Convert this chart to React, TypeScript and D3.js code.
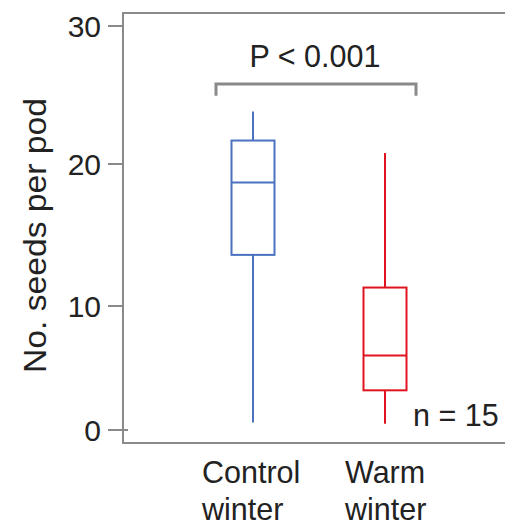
import React from 'react';
import * as d3 from 'd3';

// data
const groups = ['Control winter', 'Warm winter'];
const groupLines = [['Control', 'winter'], ['Warm', 'winter']];
const whiskerLow = [0.6, 0.5];
const boxLow = [13.6, 3.2];
const medians = [18.7, 6.0];
const boxHigh = [21.7, 11.3];
const whiskerHigh = [23.8, 20.8];
const colors = ['#4a72c0', '#e0141e'];
const yTicks = [0, 10, 20, 30];
const pLabel = 'P < 0.001';
const nLabel = 'n = 15';

const W = 505;
const H = 526;

export default function App() {
  // the original axis is not quite evenly spaced, so map each tick to its pixel
  const y = d3.scaleLinear().domain([0, 10, 20, 30]).range([430, 306, 164, 26]);
  const x = d3.scalePoint<string>().domain(groups).range([253, 385]);
  const halfBox = 21.5;

  const axisColor = '#8a8a8a';
  const textColor = '#222';
  const font = "'Liberation Sans', Arial, sans-serif";
  const fs = 30.5;

  const frameLeft = 123;
  const frameTop = 13;
  const frameBottom = 443;

  const bracketY = y(25.8);
  const bracketDrop = y(24.95);
  const bracketL = x(groups[0])! - 37;
  const bracketR = x(groups[1])! + 31;

  return (
    <svg width={W} height={H} style={{ position: 'absolute', left: 0, top: 0 }} fontFamily={font}>
      <rect x={0} y={0} width={W} height={H} fill="#fff" />
      {/* frame */}
      <rect x={frameLeft} y={frameTop} width={W} height={frameBottom - frameTop}
        fill="none" stroke={axisColor} strokeWidth={2} />
      {/* y ticks */}
      {yTicks.map((t) => (
        <g key={t}>
          <line x1={108} x2={t === 0 ? 128 : frameLeft} y1={y(t)} y2={y(t)} stroke={axisColor} strokeWidth={2} />
          <text x={101} y={y(t)} dy="0.36em" textAnchor="end" fontSize={30} fill={textColor}>{t}</text>
        </g>
      ))}
      <text transform={`translate(46,${(98 + 373) / 2}) rotate(-90)`} textAnchor="middle"
        fontSize={fs} fill={textColor} textLength={275} lengthAdjust="spacingAndGlyphs">No. seeds per pod</text>

      {/* boxes */}
      {groups.map((g, i) => {
        const cx = x(g)!;
        return (
          <g key={g} stroke={colors[i]} strokeWidth={2} fill="none">
            <line x1={cx} x2={cx} y1={y(whiskerHigh[i])} y2={y(boxHigh[i])} />
            <line x1={cx} x2={cx} y1={y(boxLow[i])} y2={y(whiskerLow[i])} />
            <rect x={cx - halfBox} y={y(boxHigh[i])} width={halfBox * 2} height={y(boxLow[i]) - y(boxHigh[i])} />
            <line x1={cx - halfBox} x2={cx + halfBox} y1={y(medians[i])} y2={y(medians[i])} />
          </g>
        );
      })}

      {/* significance bracket */}
      <path d={`M${bracketL},${bracketDrop}V${bracketY}H${bracketR}V${bracketDrop}`}
        fill="none" stroke={axisColor} strokeWidth={3} />
      <text x={315} y={67} textAnchor="middle" fontSize={fs} fill={textColor}>{pLabel}</text>

      <text x={413} y={426} fontSize={fs} fill={textColor}>{nLabel}</text>

      {/* category labels */}
      {groups.map((g, i) => (
        <text key={g} x={x(g)! - (i === 0 ? 51 : 40)} y={483} fontSize={fs} fill={textColor}>
          {groupLines[i].map((ln, j) => (
            <tspan key={j} x={x(g)! - (i === 0 ? 51 : 40)} dy={j === 0 ? 0 : 37}>{ln}</tspan>
          ))}
        </text>
      ))}
    </svg>
  );
}
